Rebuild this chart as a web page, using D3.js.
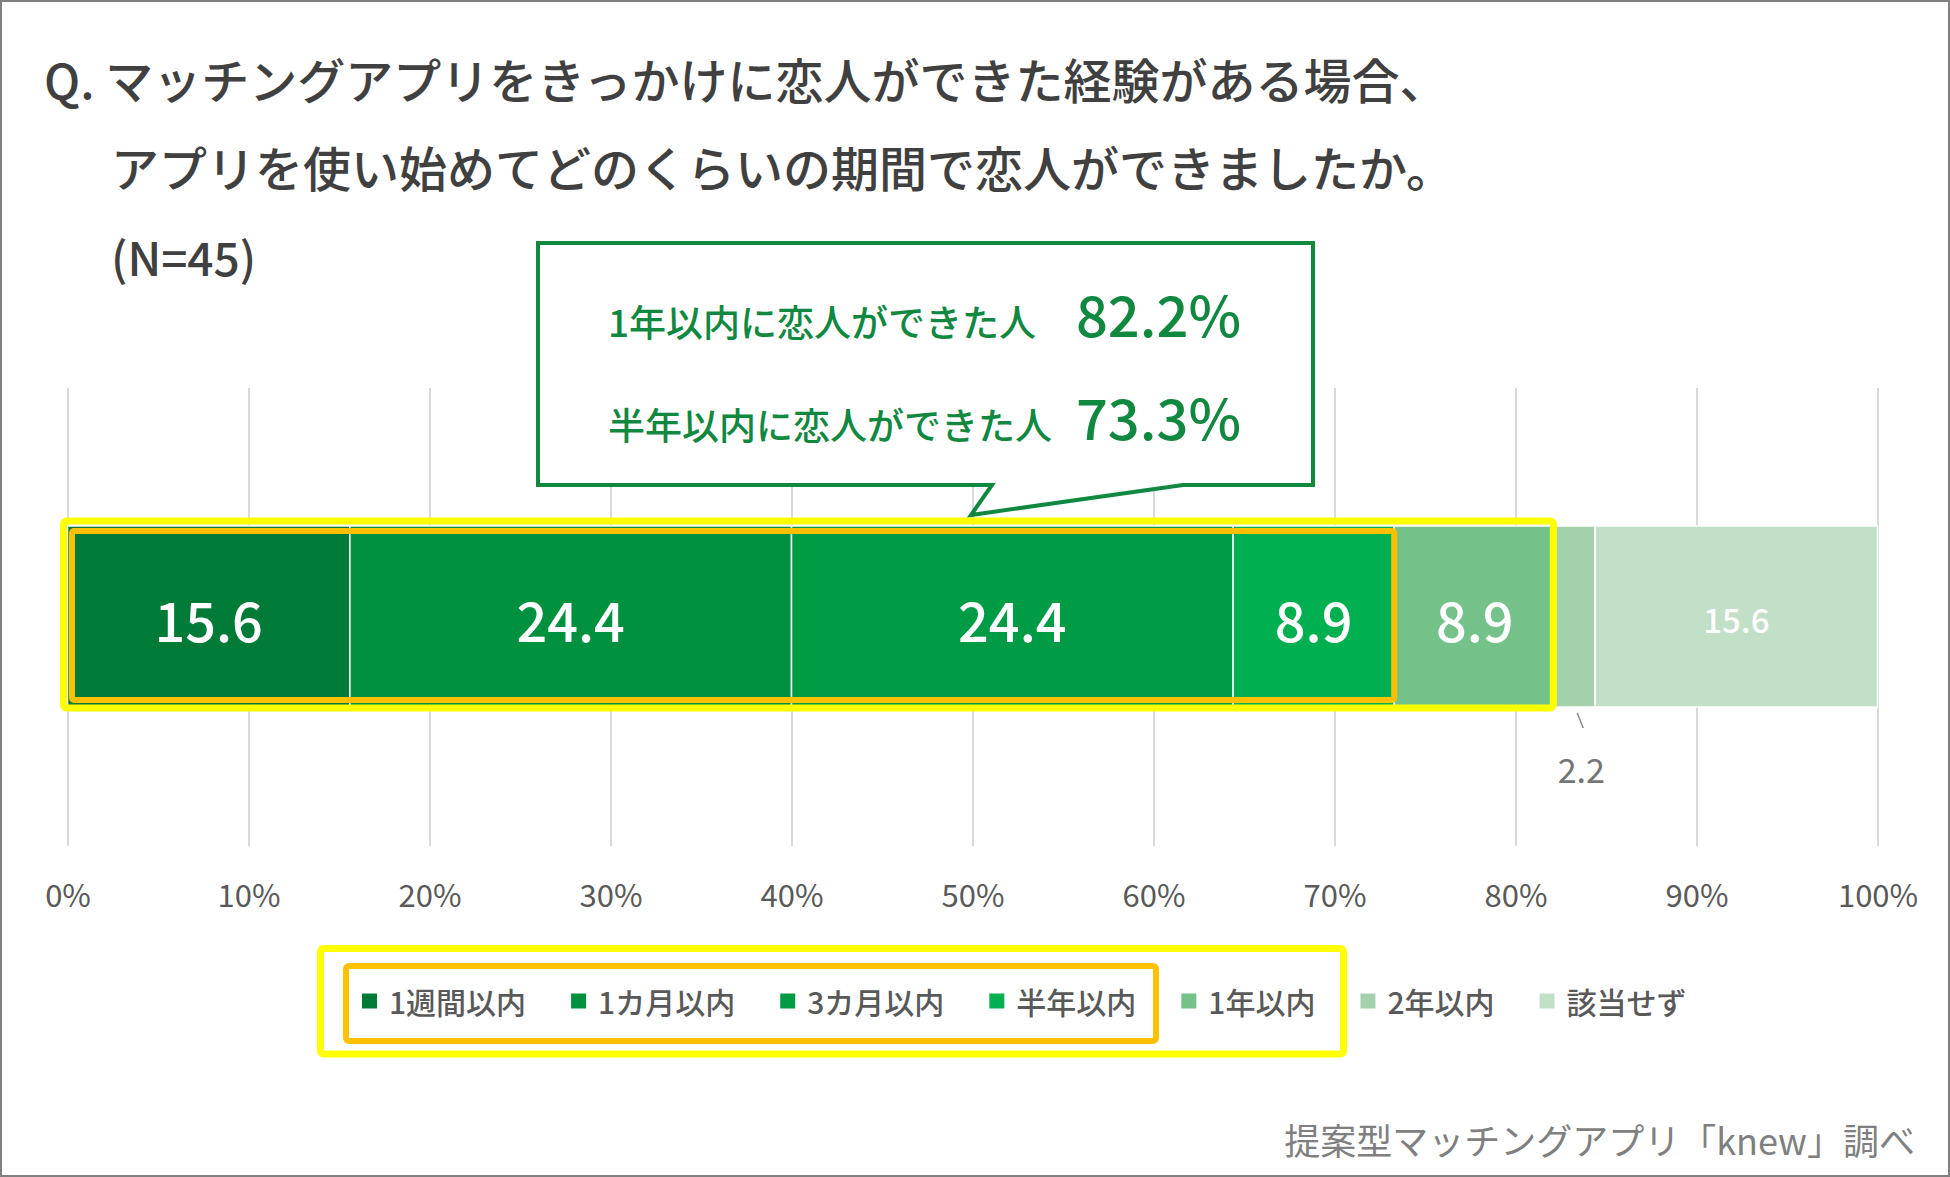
<!DOCTYPE html>
<html>
<head>
<meta charset="utf-8">
<script src="https://cdn.jsdelivr.net/npm/d3@7"></script>
<style>
  body { margin: 0; background: #fff; }
  svg { display: block; font-family: "Noto Sans CJK JP", "Noto Sans", sans-serif; }
</style>
</head>
<body>
<div id="chart"></div>
<script>
// data (percent, N=45)
const categories = ["1週間以内", "1カ月以内", "3カ月以内", "半年以内", "1年以内", "2年以内", "該当せず"];
const values = [15.6, 24.4, 24.4, 8.9, 8.9, 2.2, 15.6];
const tickValues = [0, 10, 20, 30, 40, 50, 60, 70, 80, 90, 100];
const titleLines = [
  "Q. マッチングアプリをきっかけに恋人ができた経験がある場合、",
  "アプリを使い始めてどのくらいの期間で恋人ができましたか。",
  "(N=45)"
];
const calloutLabels = ["1年以内に恋人ができた人", "半年以内に恋人ができた人"];
const calloutCounts = [5, 4]; // how many categories each sum covers
const source = "提案型マッチングアプリ「knew」調べ";

const palette = ["#007A37", "#00913F", "#009B45", "#00B050", "#75C18A", "#A3D1AB", "#C2DFC7"];

const W = 1950, H = 1177;
const svg = d3.select("#chart")
  .append("svg")
  .attr("width", W)
  .attr("height", H);

// frame
svg.append("rect")
  .attr("x", 1).attr("y", 1)
  .attr("width", W - 2).attr("height", H - 2)
  .attr("fill", "#fff")
  .attr("stroke", "#808080")
  .attr("stroke-width", 2);

// title
const titleX = [44, 111, 111], titleY = [99, 187, 276];
svg.selectAll(".title")
  .data(titleLines)
  .join("text")
  .attr("class", "title")
  .attr("x", (d, i) => titleX[i])
  .attr("y", (d, i) => titleY[i])
  .attr("font-size", (d, i) => i < 2 ? 48 : 46)
  .attr("font-weight", 500)
  .attr("fill", "#404040")
  .text(d => d);

// scales
const x = d3.scaleLinear().domain([0, 100]).range([67.5, 1877.5]);
const barTop = 526, barH = 181;
const gridTop = 388, gridBottom = 846;

// gridlines + tick labels
const xAxis = d3.axisBottom(x)
  .tickValues(tickValues)
  .tickSize(-(gridBottom - gridTop))
  .tickPadding(39)
  .tickFormat(d => d + "%");

const gx = svg.append("g")
  .attr("transform", `translate(0,${gridBottom})`)
  .call(xAxis);
gx.select(".domain").remove();
gx.selectAll(".tick line").attr("stroke", "#d9d9d9").attr("stroke-width", 2);
gx.selectAll(".tick text")
  .attr("fill", "#595959")
  .attr("font-size", 31)
  .attr("font-family", "Noto Sans CJK JP, sans-serif");

// stacked segments
let acc = 0;
const segs = values.map((v, i) => {
  const s = { cat: categories[i], value: v, x0: acc, x1: acc + v, i };
  acc += v;
  return s;
});

svg.selectAll(".seg")
  .data(segs)
  .join("rect")
  .attr("class", "seg")
  .attr("x", d => x(d.x0))
  .attr("y", barTop)
  .attr("width", d => x(d.x1) - x(d.x0))
  .attr("height", barH)
  .attr("fill", d => palette[d.i])
  .attr("stroke", "#fff")
  .attr("stroke-width", 1.5);

// callout box
const callout = svg.append("g");
callout.append("path")
  .attr("d", "M538,243 H1313 V485 H1183 L971,515 L992,485 H538 Z")
  .attr("fill", "#fff")
  .attr("stroke", "#11883F")
  .attr("stroke-width", 4)
  .attr("stroke-linejoin", "miter");

const calloutY = [337, 440];
calloutLabels.forEach((lab, i) => {
  const total = d3.sum(values.slice(0, calloutCounts[i]));
  callout.append("text")
    .attr("x", 608).attr("y", calloutY[i])
    .attr("font-size", 37)
    .attr("font-weight", 500)
    .attr("fill", "#11883F")
    .text(lab);
  callout.append("text")
    .attr("x", 1241).attr("y", calloutY[i])
    .attr("text-anchor", "end")
    .attr("font-size", 56)
    .attr("font-weight", 500)
    .attr("fill", "#11883F")
    .text(total.toFixed(1) + "%");
});

// data labels
const barMid = barTop + barH / 2;
segs.forEach(d => {
  const cx = x((d.x0 + d.x1) / 2);
  if (d.value < 5) {
    svg.append("line")
      .attr("x1", cx + 2).attr("y1", barTop + barH + 6)
      .attr("x2", cx + 8).attr("y2", barTop + barH + 21)
      .attr("stroke", "#8c8c8c")
      .attr("stroke-width", 1.5);
    svg.append("text")
      .attr("x", cx + 6).attr("y", 768)
      .attr("text-anchor", "middle")
      .attr("dominant-baseline", "central")
      .attr("font-size", 34)
      .attr("fill", "#757575")
      .text(d.value.toFixed(1));
  } else {
    const last = d.i === segs.length - 1;
    svg.append("text")
      .attr("x", cx).attr("y", barMid + 2)
      .attr("text-anchor", "middle")
      .attr("dominant-baseline", "central")
      .attr("font-size", last ? 33 : 54)
      .attr("font-weight", 500)
      .attr("fill", "#fff")
      .text(d.value.toFixed(1));
  }
});

// highlight boxes around the bar
svg.append("rect")
  .attr("x", x(0) - 4).attr("y", 521)
  .attr("width", x(segs[4].x1) - x(0) + 2).attr("height", 187)
  .attr("rx", 3)
  .attr("fill", "none").attr("stroke", "#FFFF00").attr("stroke-width", 7);
svg.append("rect")
  .attr("x", x(0) + 4.5).attr("y", 531)
  .attr("width", x(segs[3].x1) - x(0) - 4.5).attr("height", 169)
  .attr("rx", 2)
  .attr("fill", "none").attr("stroke", "#FFC000").attr("stroke-width", 6);

// legend
const legend = svg.append("g");
const legY = 1001;
let lx = 362;
categories.forEach((c, i) => {
  const g = legend.append("g");
  g.append("rect")
    .attr("x", lx).attr("y", legY - 7.5)
    .attr("width", 15).attr("height", 15)
    .attr("fill", palette[i]);
  const t = g.append("text")
    .attr("x", lx + 27).attr("y", legY)
    .attr("dominant-baseline", "central")
    .attr("font-size", 30)
    .attr("font-weight", 500)
    .attr("fill", "#595959")
    .text(c);
  lx += 27 + t.node().getComputedTextLength() + 45;
});

svg.append("rect")
  .attr("x", 320.5).attr("y", 948.5)
  .attr("width", 1023).attr("height", 105.5)
  .attr("rx", 3)
  .attr("fill", "none").attr("stroke", "#FFFF00").attr("stroke-width", 7);
svg.append("rect")
  .attr("x", 346).attr("y", 966)
  .attr("width", 810).attr("height", 75)
  .attr("rx", 3)
  .attr("fill", "none").attr("stroke", "#FFC000").attr("stroke-width", 6);

// source
svg.append("text")
  .attr("x", 1915).attr("y", 1155)
  .attr("text-anchor", "end")
  .attr("font-size", 36)
  .attr("fill", "#7f7f7f")
  .text(source);
</script>
</body>
</html>
